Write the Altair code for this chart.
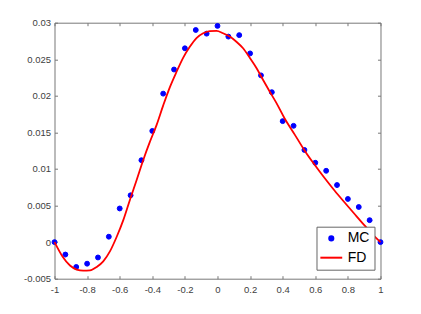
import altair as alt
import pandas as pd

# Monte Carlo points (MC)
mc_x = [-1, -0.9333, -0.8667, -0.8, -0.7333, -0.6667, -0.6, -0.5333, -0.4667, -0.4,
        -0.3333, -0.2667, -0.2, -0.1333, -0.0667, 0, 0.0667, 0.1333, 0.2, 0.2667,
        0.3333, 0.4, 0.4667, 0.5333, 0.6, 0.6667, 0.7333, 0.8, 0.8667, 0.9333, 1]
mc_y = [0, -0.0017, -0.0034, -0.00295, -0.0021, 0.00074, 0.0046, 0.0064, 0.0112, 0.0152,
        0.0203, 0.0236, 0.0265, 0.0290, 0.0285, 0.02956, 0.0281, 0.0283, 0.0258, 0.0228,
        0.0205, 0.01654, 0.0159, 0.0126, 0.01085, 0.00975, 0.0078, 0.0059, 0.0048, 0.0030, 0]

# Finite difference curve (FD)
fd_x = [-1.0, -0.95, -0.905, -0.864, -0.824, -0.782, -0.741, -0.701, -0.66, -0.619,
        -0.578, -0.537, -0.496, -0.456, -0.415, -0.374, -0.333, -0.292, -0.251, -0.211,
        -0.17, -0.129, -0.088, -0.047, -0.006, 0.034, 0.075, 0.116, 0.157, 0.198,
        0.239, 0.279, 0.32, 0.362, 0.412, 0.474, 0.535, 0.596, 0.657, 0.719,
        0.78, 0.841, 0.902, 0.963, 1.0]
fd_y = [0.0, -0.0020, -0.0032, -0.00375, -0.0039, -0.00386, -0.0034, -0.00263, -0.00127, 0.0007,
        0.0030, 0.0058, 0.0085, 0.0112, 0.0137, 0.0160, 0.0187, 0.0212, 0.0233, 0.0252,
        0.0267, 0.0279, 0.02856, 0.02885, 0.02888, 0.02856, 0.0281, 0.0274, 0.0265, 0.0252,
        0.0238, 0.0222, 0.0206, 0.0190, 0.0169, 0.0147, 0.0125, 0.01057, 0.00876, 0.00702,
        0.00542, 0.00384, 0.00228, 0.00078, 0.0]

series = ["MC", "FD"]
series_colors = ["#0000ff", "#ff0000"]
x_ticks = [-1, -0.8, -0.6, -0.4, -0.2, 0, 0.2, 0.4, 0.6, 0.8, 1]
y_ticks = [-0.005, 0, 0.005, 0.01, 0.015, 0.02, 0.025, 0.03]

mc = pd.DataFrame({"x": mc_x, "y": mc_y, "series": ["MC"] * len(mc_x)})
fd = pd.DataFrame({"x": fd_x, "y": fd_y})

W, H = 326, 256
xs = alt.Scale(domain=[-1, 1], nice=False, zero=False)
ys = alt.Scale(domain=[-0.005, 0.03], nice=False, zero=False)

lbl = "'' + datum.value"
GRAY = "#777777"
common = dict(grid=False, domain=False, labelFont="Liberation Sans", labelFontSize=9.5,
              labelColor="#404040", tickColor=GRAY, tickWidth=1, labelFlush=False)

x_lab = alt.Axis(orient="bottom", values=x_ticks, labelExpr=lbl, ticks=False, labelPadding=6, **common)
y_lab = alt.Axis(orient="left", values=y_ticks, labelExpr=lbl, ticks=False, labelPadding=4, **common)
x_in_bottom = alt.Axis(orient="top", offset=-H, values=x_ticks, labels=False, tickSize=3, **common)
y_in_left = alt.Axis(orient="right", offset=-W, values=y_ticks, labels=False, tickSize=3, **common)
x_in_top = alt.Axis(orient="bottom", offset=-H, values=x_ticks, labels=False, tickSize=3, **common)
y_in_right = alt.Axis(orient="left", offset=-W, values=y_ticks, labels=False, tickSize=3, **common)

leg = alt.Legend(title=None, orient="none", legendX=262, legendY=204,
                 fillColor="white", strokeColor="#666666", padding=4.7, rowPadding=5.3,
                 labelFont="Liberation Sans", labelFontSize=14, labelColor="black",
                 labelOffset=9.4, symbolOffset=3.1, symbolSize=17, symbolStrokeWidth=2)

fill_scale = alt.Scale(domain=series, range=series_colors)
stroke_scale = alt.Scale(domain=series, range=series_colors)
shape_scale = alt.Scale(domain=series, range=["circle", "M-5.3,0L5.3,0"])

points = alt.Chart(mc).mark_point(filled=True, size=24, strokeWidth=1, opacity=1).encode(
    x=alt.X("x:Q", scale=xs, axis=x_lab, title=None),
    y=alt.Y("y:Q", scale=ys, axis=y_lab, title=None),
    fill=alt.Fill("series:N", scale=fill_scale, legend=leg),
    stroke=alt.Stroke("series:N", scale=stroke_scale, legend=leg),
    shape=alt.Shape("series:N", scale=shape_scale, legend=leg),
)

line = alt.Chart(fd).mark_line(color="#ff0000", strokeWidth=1.8, interpolate="monotone").encode(
    x=alt.X("x:Q", scale=xs, axis=x_in_bottom, title=None),
    y=alt.Y("y:Q", scale=ys, axis=y_in_left, title=None),
)

ghost = alt.Chart(fd).mark_line(opacity=0).encode(
    x=alt.X("x:Q", scale=xs, axis=x_in_top, title=None),
    y=alt.Y("y:Q", scale=ys, axis=y_in_right, title=None),
)

chart = alt.layer(points, line, ghost).resolve_axis(
    x="independent", y="independent"
).properties(
    width=W, height=H,
    padding={"left": 46.5, "top": 14.7, "right": 30, "bottom": 25},
    autosize=alt.AutoSizeParams(type="none"),
).configure_view(stroke=GRAY, strokeWidth=1)

chart.save("out.html", embed_options={"renderer": "svg", "actions": False})
